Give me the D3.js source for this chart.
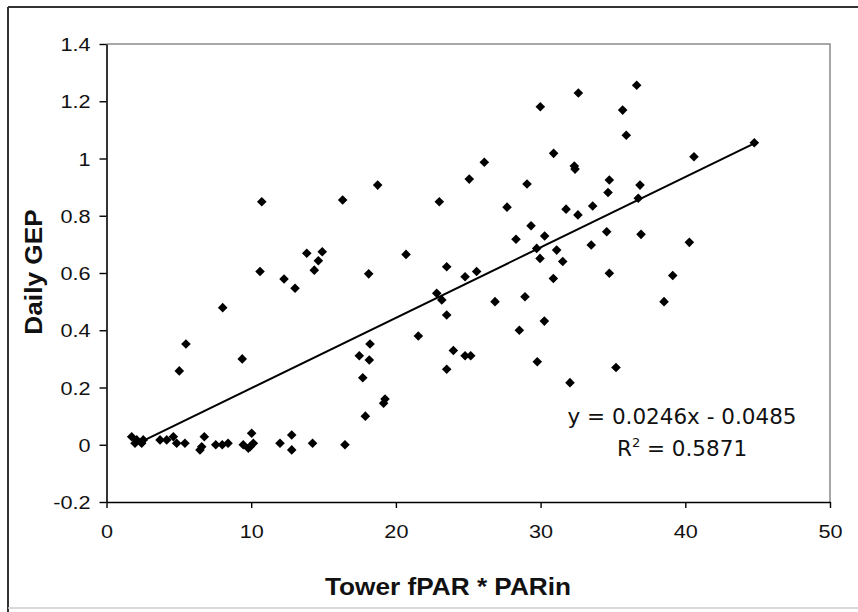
<!DOCTYPE html>
<html>
<head>
<meta charset="utf-8">
<script src="https://cdn.jsdelivr.net/npm/d3@7"></script>
<style>
  body { margin: 0; background: #fff; }
</style>
</head>
<body>
<svg id="chart" width="858" height="612"></svg>
<script>
// values
var towerPAR = [1.74, 2.09, 2.43, 1.97, 2.54, 3.70, 4.62, 4.85, 4.16, 5.42, 6.46, 6.58, 6.76, 7.55, 8.0, 8.4,
  9.45, 9.80, 9.92, 10.03, 10.15, 11.99, 12.8, 12.8, 14.24, 16.48,
  5.03, 5.49, 8.03, 9.38, 10.61, 10.73, 12.27, 13.03, 13.84, 14.36, 14.64, 14.91, 16.32,
  17.47, 17.71, 18.12, 18.16, 18.21, 17.89, 19.15, 19.25, 18.74, 20.70, 21.55, 22.82, 23.17, 23.0,
  23.51, 23.51, 23.51, 23.97, 24.78, 24.78, 25.17, 25.07, 25.58, 26.11, 26.85, 27.68, 28.30, 28.53,
  28.92, 29.06, 29.34, 29.77, 29.73, 29.96, 29.98, 30.28, 30.26, 30.90, 30.88, 31.11, 31.53, 31.76,
  32.03, 32.33, 32.38, 32.58, 32.61, 33.5, 33.6, 34.57, 34.66, 34.75, 34.75, 35.21, 35.67, 35.92,
  36.64, 36.75, 36.87, 36.94, 38.53, 39.13, 40.28, 40.6, 44.77];
var dailyGEP = [0.028, 0.017, 0.005, 0.005, 0.017, 0.017, 0.028, 0.005, 0.017, 0.005, -0.018, -0.007, 0.028, 0.0, 0.0, 0.005,
  0.0, -0.012, -0.007, 0.04, 0.005, 0.005, 0.034, -0.018, 0.005, 0.0,
  0.258, 0.352, 0.479, 0.30, 0.605, 0.849, 0.579, 0.547, 0.669, 0.610, 0.643, 0.674, 0.855,
  0.311, 0.234, 0.597, 0.296, 0.352, 0.10, 0.145, 0.16, 0.907, 0.665, 0.38, 0.529, 0.506, 0.849,
  0.622, 0.453, 0.264, 0.329, 0.587, 0.311, 0.311, 0.928, 0.605, 0.987, 0.50, 0.830, 0.718, 0.40,
  0.517, 0.911, 0.765, 0.29, 0.686, 0.651, 1.181, 0.729, 0.432, 1.018, 0.581, 0.680, 0.640, 0.823,
  0.217, 0.974, 0.963, 0.803, 1.229, 0.698, 0.834, 0.744, 0.881, 0.925, 0.599, 0.27, 1.169, 1.081,
  1.256, 0.861, 0.907, 0.735, 0.50, 0.591, 0.707, 1.006, 1.055];

var xTicks = [0, 10, 20, 30, 40, 50];
var yTicks = [-0.2, 0, 0.2, 0.4, 0.6, 0.8, 1, 1.2, 1.4];
var trendSlope = 0.0246, trendIntercept = -0.0485, trendR2 = 0.5871;
var trendFrom = 2.7;

var svg = d3.select("#chart");
var stretch = 1.14;   // the scan's lettering is a little wider than Arial
var sans = "'Liberation Sans', Arial, sans-serif";

// outer frame
svg.append("line").attr("x1", 8).attr("y1", 7).attr("x2", 858).attr("y2", 7)
  .attr("stroke", "#333").attr("stroke-width", 2);
svg.append("line").attr("x1", 8).attr("y1", 7).attr("x2", 8).attr("y2", 612)
  .attr("stroke", "#333").attr("stroke-width", 2);
svg.append("line").attr("x1", 8).attr("y1", 608).attr("x2", 858).attr("y2", 608)
  .attr("stroke", "#ccc").attr("stroke-width", 1.5);

var x = d3.scaleLinear().domain([0, 50]).range([106.5, 830]);
var y = d3.scaleLinear().domain([-0.2, 1.4]).range([502, 44]);

// plot area border (top and right are grey)
svg.append("path")
  .attr("d", "M" + x(0) + "," + y(1.4) + "H" + x(50) + "V" + y(-0.2))
  .attr("fill", "none").attr("stroke", "#8a8a8a").attr("stroke-width", 1.5);

var yAxis = svg.append("g").attr("transform", "translate(" + x(0) + ",0)")
  .call(d3.axisLeft(y).tickValues(yTicks).tickSize(7).tickSizeOuter(0)
    .tickFormat(function(d) { return String(+d.toFixed(1)); }));
var xAxis = svg.append("g").attr("transform", "translate(0," + y(-0.2) + ")")
  .call(d3.axisBottom(x).tickValues(xTicks).tickSize(6).tickSizeOuter(0));

[yAxis, xAxis].forEach(function(g) {
  g.select(".domain").attr("stroke", "#000").attr("stroke-width", 1.6);
  g.selectAll(".tick line").attr("stroke", "#000").attr("stroke-width", 1.4);
  g.selectAll(".tick text").attr("font-size", 19).attr("fill", "#111")
    .attr("font-family", sans);
});
yAxis.selectAll(".tick text")
  .attr("x", null).attr("dy", null)
  .attr("transform", "translate(-16,0) scale(" + stretch + ",1)")
  .attr("dominant-baseline", "central");
xAxis.selectAll(".tick text")
  .attr("y", null).attr("dy", null)
  .attr("transform", "translate(0,36) scale(" + stretch + ",1)");

// trendline
svg.append("line")
  .attr("x1", x(trendFrom)).attr("y1", y(trendSlope * trendFrom + trendIntercept))
  .attr("x2", x(d3.max(towerPAR))).attr("y2", y(trendSlope * d3.max(towerPAR) + trendIntercept))
  .attr("stroke", "#000").attr("stroke-width", 2);

// points
var diamond = d3.symbol().type(d3.symbolSquare).size(46);
svg.append("g").selectAll("path").data(towerPAR).enter()
  .append("path")
  .attr("d", diamond)
  .attr("transform", function(d, i) {
    return "translate(" + x(d) + "," + y(dailyGEP[i]) + ") rotate(45)";
  })
  .attr("fill", "#000");

// equation
svg.append("text")
  .attr("x", 682).attr("y", 424)
  .attr("text-anchor", "middle")
  .attr("font-family", "'DejaVu Sans', Verdana, sans-serif")
  .attr("font-size", 21.5).attr("fill", "#111")
  .text("y = " + trendSlope + "x - " + Math.abs(trendIntercept));
var r2 = svg.append("text")
  .attr("x", 682).attr("y", 456)
  .attr("text-anchor", "middle")
  .attr("font-family", "'DejaVu Sans', Verdana, sans-serif")
  .attr("font-size", 21.5).attr("fill", "#111");
r2.append("tspan").text("R");
r2.append("tspan").attr("font-size", 13).attr("dy", -9).text("2");
r2.append("tspan").attr("dy", 9).text(" = " + trendR2);

// axis titles
svg.append("text")
  .attr("transform", "translate(448,595) scale(" + stretch + ",1)")
  .attr("text-anchor", "middle")
  .attr("font-family", sans).attr("fill", "#111")
  .attr("font-weight", "bold").attr("font-size", 23)
  .text("Tower fPAR * PARin");
svg.append("text")
  .attr("transform", "translate(42,272) rotate(-90) scale(" + stretch + ",1)")
  .attr("text-anchor", "middle")
  .attr("font-family", sans).attr("fill", "#111")
  .attr("font-weight", "bold").attr("font-size", 23)
  .text("Daily GEP");
</script>
</body>
</html>
